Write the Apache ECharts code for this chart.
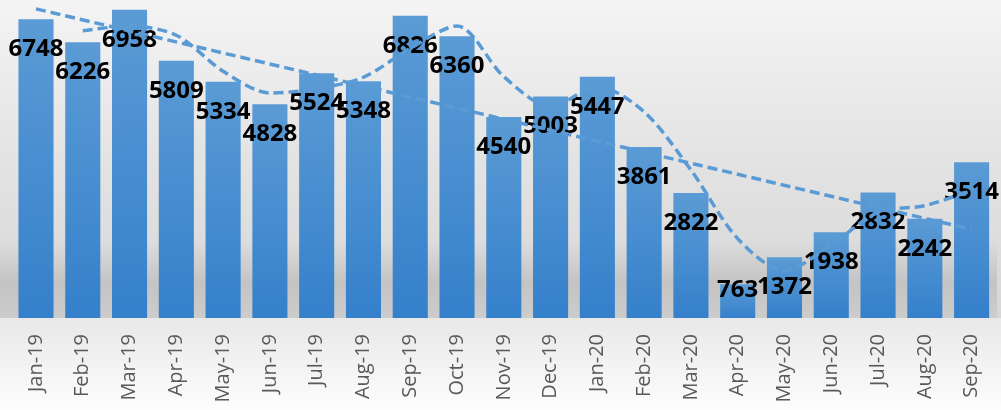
<!DOCTYPE html>
<html>
<head>
<meta charset="utf-8">
<script src="https://cdn.jsdelivr.net/npm/echarts@6/dist/echarts.min.js"></script>
<style>
  html, body { margin: 0; padding: 0; background: #fff; }
  #main { width: 1001px; height: 410px; }
</style>
</head>
<body>
<div id="main"></div>
<script>
// monthly counts
var months = ['Jan-19', 'Feb-19', 'Mar-19', 'Apr-19', 'May-19', 'Jun-19', 'Jul-19',
  'Aug-19', 'Sep-19', 'Oct-19', 'Nov-19', 'Dec-19', 'Jan-20', 'Feb-20', 'Mar-20',
  'Apr-20', 'May-20', 'Jun-20', 'Jul-20', 'Aug-20', 'Sep-20'];
var counts = [6748, 6226, 6958, 5809, 5334, 4828, 5524, 5348, 6826, 6360, 4540,
  5003, 5447, 3861, 2822, 763, 1372, 1938, 2832, 2242, 3514];
// moving average line (starts at Feb-19)
var avgLine = [null, 6487, 6592, 6384, 5572, 5081, 5176, 5436, 6087, 6593, 5450,
  4772, 5225, 4654, 3342, 1793, 1068, 1655, 2385, 2537, 2878];
// straight trend line: values at first and last month
var trendEnds = [6980, 2000];

var chart = echarts.init(document.getElementById('main'));

var trendLine = months.map(function (m, i) {
  if (i === 0) return trendEnds[0];
  if (i === months.length - 1) return trendEnds[1];
  return null;
});

// short bars get their label lifted off the axis
var barData = counts.map(function (v) {
  if (v < 1000) {
    return { value: v, label: { position: 'insideBottom', distance: 16 } };
  }
  return v;
});

var dashStyle = {
  color: '#5B9BD5',
  width: 3.5,
  type: [10, 5]
};

var option = {
  animation: false,
  graphic: [
    {
      type: 'rect', z: -10, silent: true,
      shape: { x: 0, y: 0, width: 1001, height: 318 },
      style: {
        fill: new echarts.graphic.LinearGradient(0, 0, 0, 1, [
          { offset: 0, color: '#f4f4f4' },
          { offset: 0.5, color: '#e3e3e3' },
          { offset: 1, color: '#d7d7d7' }
        ])
      }
    },
    {
      type: 'rect', z: -9, silent: true,
      shape: { x: 0, y: 240, width: 997, height: 78 },
      style: {
        fill: new echarts.graphic.LinearGradient(0, 0, 0, 1, [
          { offset: 0, color: 'rgba(0,0,0,0)' },
          { offset: 0.55, color: 'rgba(0,0,0,0.1)' },
          { offset: 1, color: 'rgba(0,0,0,0.05)' }
        ])
      }
    },
    {
      type: 'rect', z: -10, silent: true,
      shape: { x: 0, y: 318, width: 1001, height: 92 },
      style: {
        fill: new echarts.graphic.LinearGradient(0, 0, 0, 1, [
          { offset: 0, color: '#e8e8e8' },
          { offset: 1, color: '#fdfdfd' }
        ])
      }
    }
  ],
  grid: { left: 12.6, right: 6, top: 0, bottom: 92, containLabel: false },
  xAxis: {
    type: 'category',
    data: months,
    axisLine: { show: false },
    axisTick: { show: false },
    axisLabel: {
      rotate: 90,
      margin: 16,
      color: '#595959',
      fontFamily: 'Open Sans',
      fontSize: 20,
      interval: 0
    }
  },
  yAxis: {
    type: 'value',
    min: 0,
    max: 7180,
    show: false,
    splitLine: { show: false }
  },
  series: [
    {
      name: 'Count',
      type: 'bar',
      data: barData,
      barCategoryGap: '25%',
      itemStyle: {
        color: new echarts.graphic.LinearGradient(0, 0, 0, 1, [
          { offset: 0, color: '#5B9BD5' },
          { offset: 1, color: '#3580CB' }
        ])
      },
      label: {
        show: true,
        position: 'insideTop',
        distance: 18,
        color: '#000',
        fontFamily: 'Open Sans',
        fontWeight: 'bold',
        fontSize: 24,
        lineHeight: 24
      },
      z: 2
    },
    {
      name: 'Trend',
      type: 'line',
      data: trendLine,
      connectNulls: true,
      showSymbol: false,
      lineStyle: dashStyle,
      z: 3
    },
    {
      name: '2 per. Mov. Avg.',
      type: 'line',
      data: avgLine,
      smooth: 0.3,
      showSymbol: false,
      lineStyle: dashStyle,
      z: 3
    }
  ]
};

chart.setOption(option);
</script>
</body>
</html>
